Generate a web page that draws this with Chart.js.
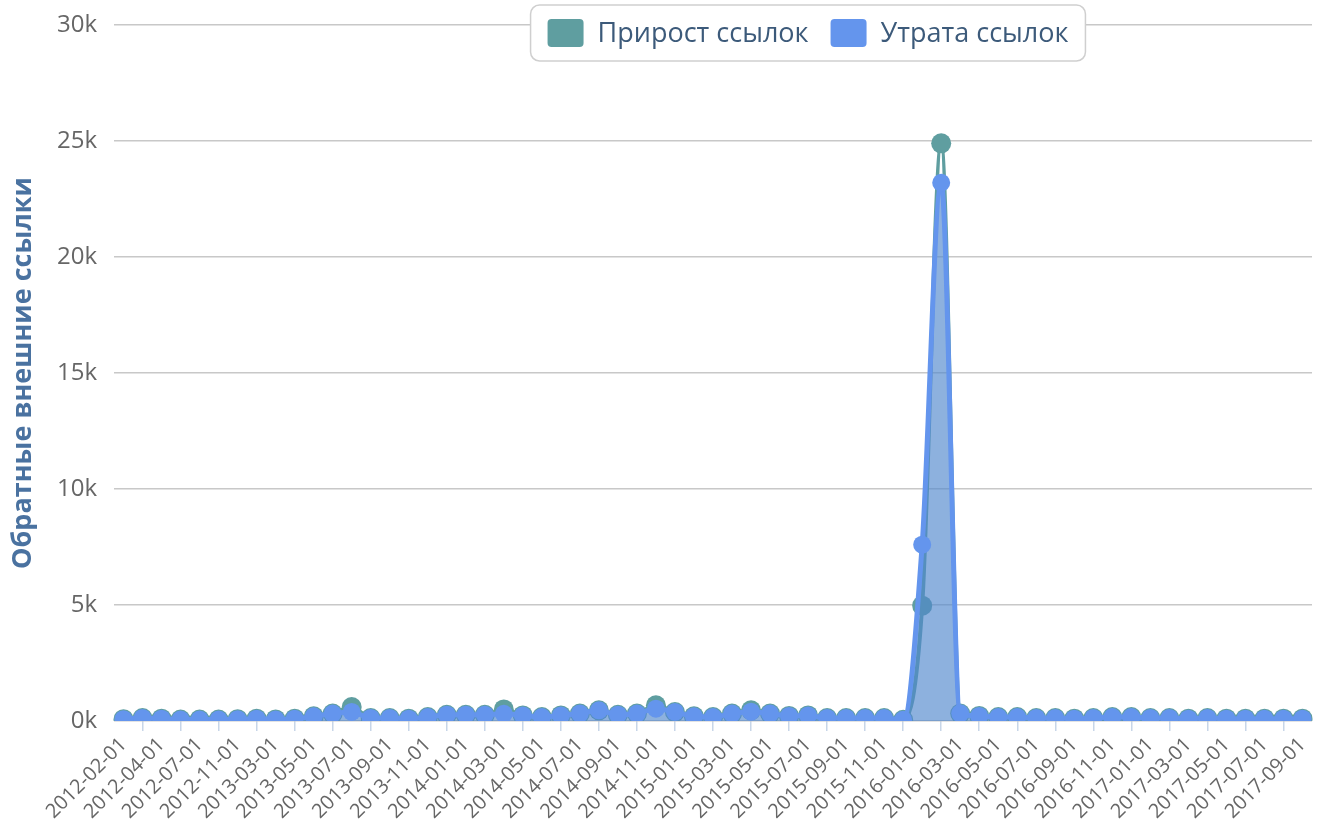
<!DOCTYPE html>
<html>
<head>
<meta charset="utf-8">
<script src="https://cdn.jsdelivr.net/npm/chart.js@4/dist/chart.umd.min.js"></script>
<style>
  html, body { margin: 0; padding: 0; background: #fff; }
  #wrap { position: relative; width: 1322px; height: 823px; }
</style>
</head>
<body>
<div id="wrap"><canvas id="chart" width="1322" height="823"></canvas></div>
<script>
const months = [
  "2012-02-01", "2012-03-01", "2012-04-01", "2012-05-01", "2012-07-01", "2012-09-01", "2012-11-01", "2013-01-01",
  "2013-03-01", "2013-04-01", "2013-05-01", "2013-06-01", "2013-07-01", "2013-08-01", "2013-09-01", "2013-10-01",
  "2013-11-01", "2013-12-01", "2014-01-01", "2014-02-01", "2014-03-01", "2014-04-01", "2014-05-01", "2014-06-01",
  "2014-07-01", "2014-08-01", "2014-09-01", "2014-10-01", "2014-11-01", "2014-12-01", "2015-01-01", "2015-02-01",
  "2015-03-01", "2015-04-01", "2015-05-01", "2015-06-01", "2015-07-01", "2015-08-01", "2015-09-01", "2015-10-01",
  "2015-11-01", "2015-12-01", "2016-01-01", "2016-02-01", "2016-03-01", "2016-04-01", "2016-05-01", "2016-06-01",
  "2016-07-01", "2016-08-01", "2016-09-01", "2016-10-01", "2016-11-01", "2016-12-01", "2017-01-01", "2017-02-01",
  "2017-03-01", "2017-04-01", "2017-05-01", "2017-06-01", "2017-07-01", "2017-08-01", "2017-09-01"
]

const gained = [
  80, 130, 100, 60, 60, 60, 80, 100,
  70, 100, 200, 320, 600, 130, 130, 100,
  170, 270, 270, 270, 500, 240, 170, 240,
  320, 460, 270, 320, 680, 390, 200, 170,
  320, 460, 320, 220, 240, 130, 130, 130,
  130, 50, 4970, 24900, 320, 220, 170, 170,
  130, 130, 100, 130, 170, 170, 130, 130,
  100, 130, 100, 100, 100, 100, 100
]

const lost = [
  80, 130, 100, 60, 60, 60, 80, 100,
  70, 100, 200, 320, 390, 130, 130, 100,
  170, 270, 270, 270, 310, 240, 170, 240,
  320, 460, 270, 320, 530, 390, 200, 170,
  320, 400, 320, 220, 240, 130, 130, 130,
  130, 50, 7600, 23200, 330, 220, 170, 170,
  130, 130, 100, 130, 170, 170, 130, 130,
  100, 130, 100, 100, 100, 100, 100
]

const seriesNames = ["Прирост ссылок", "Утрата ссылок"]
const yTicks = [0, 5000, 10000, 15000, 20000, 25000, 30000]
const axisTitle = "Обратные внешние ссылки"

const green = "#5f9ea0"
const blue = "#6495ed"

// legend box sits over the plot, like the original
const boxLegend = {
  id: "boxLegend",
  afterDraw(chart){
    const ctx = chart.ctx
    const sets = chart.data.datasets
    ctx.save()
    ctx.font = "27px 'Open Sans'"
    const sw = 36, sh = 28, pad = 17, gap = 14, between = 22
    const widths = sets.map(d => ctx.measureText(d.label).width)
    let total = pad * 2 + between * (sets.length - 1)
    widths.forEach(w => { total += sw + gap + w })
    const cx = 808, top = 5, h = 56
    const left = cx - total / 2
    ctx.beginPath()
    ctx.roundRect(left, top, total, h, 9)
    ctx.fillStyle = "#fff"
    ctx.fill()
    ctx.lineWidth = 1.5
    ctx.strokeStyle = "#cfcfcf"
    ctx.stroke()
    let x = left + pad
    const mid = top + h / 2
    sets.forEach((d, i) => {
      ctx.beginPath()
      ctx.roundRect(x, mid - sh / 2, sw, sh, 4)
      ctx.fillStyle = d.borderColor
      ctx.fill()
      x += sw + gap
      ctx.fillStyle = "#3c5a7a"
      ctx.textBaseline = "middle"
      ctx.textAlign = "left"
      ctx.fillText(d.label, x, mid + 1)
      x += widths[i] + between
    })
    ctx.restore()
  }
}

const ctx = document.getElementById("chart").getContext("2d")
new Chart(ctx, {
  type: "line",
  data: {
    labels: months,
    datasets: [
      {
        label: seriesNames[0],
        data: gained,
        borderColor: green,
        backgroundColor: green,
        borderWidth: 4,
        pointRadius: 10,
        pointBackgroundColor: green,
        pointBorderWidth: 0,
        fill: false,
        cubicInterpolationMode: "monotone",
        order: 2
      },
      {
        label: seriesNames[1],
        data: lost,
        borderColor: blue,
        backgroundColor: "rgba(80,135,205,0.65)",
        borderWidth: 5,
        pointRadius: 9,
        pointBackgroundColor: blue,
        pointBorderWidth: 0,
        fill: "origin",
        cubicInterpolationMode: "monotone",
        order: 1
      }
    ]
  },
  options: {
    responsive: false,
    animation: false,
    devicePixelRatio: 1,
    layout: { padding: { top: 25, right: 10, left: 0, bottom: 0 } },
    plugins: {
      legend: { display: false },
      tooltip: { enabled: false }
    },
    scales: {
      x: {
        offset: true,
        grid: {
          drawOnChartArea: false,
          tickLength: 10,
          tickColor: c => (c.index % 2 ? "rgba(176,196,222,0.7)" : "rgba(0,0,0,0)"),
          lineWidth: 1.5
        },
        border: { display: false },
        ticks: {
          autoSkip: false,
          maxRotation: 45,
          minRotation: 45,
          padding: 2,
          color: "#666",
          font: { family: "'Open Sans'", size: 20 },
          callback: (v, i) => (i % 2 === 0 ? months[i] : "")
        },
        afterFit: s => { s.height = 102 }
      },
      y: {
        min: 0,
        max: 30000,
        afterBuildTicks: s => { s.ticks = yTicks.map(v => ({ value: v })) },
        grid: { color: "#c8c8c8", lineWidth: 1.5, drawTicks: false },
        border: { display: false },
        ticks: {
          padding: 17,
          color: "#666",
          font: { family: "'Open Sans'", size: 24 },
          callback: v => v / 1000 + "k"
        },
        title: {
          display: true,
          text: axisTitle,
          color: "#4a72a0",
          font: { family: "'Open Sans'", size: 27, weight: "bold" },
          padding: { top: 7, bottom: 0 }
        },
        afterFit: s => {
          s.width = 114
          s.paddingTop = 0
          s.paddingBottom = 0
        }
      }
    }
  },
  plugins: [boxLegend]
})
</script>
</body>
</html>
